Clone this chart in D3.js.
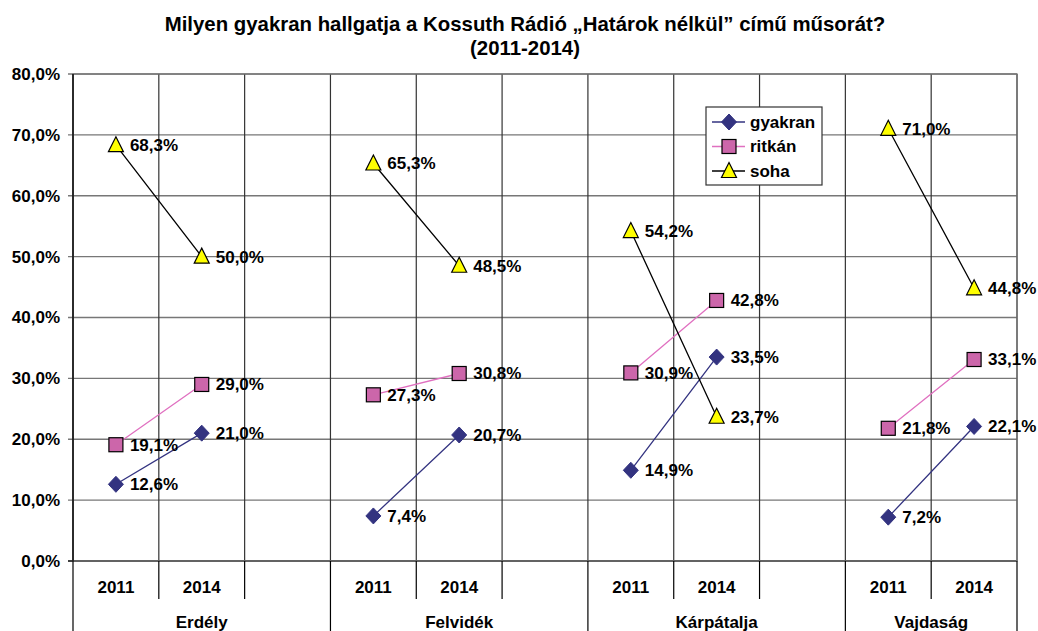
<!DOCTYPE html>
<html><head><meta charset="utf-8">
<script src="https://cdn.jsdelivr.net/npm/d3@7"></script>
<style>body{margin:0;background:#fff}svg{display:block}text{font-family:"Liberation Sans",Arial,sans-serif;font-weight:bold}</style>
</head><body><svg id="c" width="1038" height="631"></svg>
<script>
const categories = ["2011","2014","","2011","2014","","2011","2014","","2011","2014"];
const groups = ["Erdély","Felvidék","Kárpátalja","Vajdaság"];
const groupSizes = [3,3,3,2];
const gyakran = [12.6,21.0,null,7.4,20.7,null,14.9,33.5,null,7.2,22.1];
const ritkan = [19.1,29.0,null,27.3,30.8,null,30.9,42.8,null,21.8,33.1];
const soha = [68.3,50.0,null,65.3,48.5,null,54.2,23.7,null,71.0,44.8];
const yTicks = [0,10,20,30,40,50,60,70,80];
const seriesNames = ["gyakran","ritkán","soha"];

const svg = d3.select("#c");
const L=73,R=1017,T=74,B=561;
const FS=17;
const x = d3.scaleBand().domain(d3.range(categories.length)).range([L,R]).padding(0);
const y = d3.scaleLinear().domain([0,80]).range([B,T]);
const fmt = v => d3.format(".1f")(v).replace(".",",")+"%";

// title
svg.append("text").attr("x",525).attr("y",31).attr("text-anchor","middle").attr("font-size",20.4).text("Milyen gyakran hallgatja a Kossuth Rádió „Határok nélkül” című műsorát?");
svg.append("text").attr("x",525).attr("y",55).attr("text-anchor","middle").attr("font-size",20.4).text("(2011-2014)");

// horizontal grid
svg.append("g").selectAll("line").data(yTicks).join("line")
 .attr("x1",L-5).attr("x2",R).attr("y1",d=>y(d)).attr("y2",d=>y(d))
 .attr("stroke",d=>d===0?"#000":"#777").attr("stroke-width",1.3);
// vertical grid
svg.append("g").selectAll("line").data(d3.range(categories.length+1)).join("line")
 .attr("x1",i=>i<categories.length?x(i):R).attr("x2",i=>i<categories.length?x(i):R)
 .attr("y1",T).attr("y2",B).attr("stroke","#333").attr("stroke-width",1.2);
// border
svg.append("rect").attr("x",L).attr("y",T).attr("width",R-L).attr("height",B-T).attr("fill","none").attr("stroke","#777").attr("stroke-width",1.3);
svg.append("line").attr("x1",L).attr("x2",L).attr("y1",T).attr("y2",B).attr("stroke","#000").attr("stroke-width",1.3);

// y labels
svg.append("g").selectAll("text").data(yTicks).join("text")
 .attr("x",60).attr("y",d=>y(d)).attr("dy","0.35em").attr("text-anchor","end").attr("font-size",FS)
 .text(d=>d3.format(".1f")(d).replace(".",",")+"%");

// x category labels
svg.append("g").selectAll("text").data(categories).join("text")
 .attr("x",(d,i)=>x(i)+x.bandwidth()/2).attr("y",593).attr("text-anchor","middle").attr("font-size",FS).text(d=>d);
// category tick lines
let starts=[0]; groupSizes.forEach((s,i)=>starts.push(starts[i]+s));
svg.append("g").selectAll("line").data(d3.range(1,categories.length)).join("line")
 .attr("x1",i=>x(i)).attr("x2",i=>x(i)).attr("y1",B).attr("y2",i=>starts.includes(i)?631:599)
 .attr("stroke","#000").attr("stroke-width",1.2);
svg.append("line").attr("x1",L).attr("x2",L).attr("y1",B).attr("y2",631).attr("stroke","#000").attr("stroke-width",1.2);
svg.append("line").attr("x1",R).attr("x2",R).attr("y1",B).attr("y2",631).attr("stroke","#000").attr("stroke-width",1.2);
// group labels
svg.append("g").selectAll("text").data(groups).join("text")
 .attr("x",(d,i)=>{const a=x(starts[i]);const b=starts[i+1]<categories.length?x(starts[i+1]):R;return (a+b)/2;})
 .attr("y",628).attr("text-anchor","middle").attr("font-size",FS).text(d=>d);

const styles = [
 {data:gyakran,line:"#333380",fill:"#333380",stroke:"#333380",shape:"diamond"},
 {data:ritkan,line:"#e070c0",fill:"#cc66aa",stroke:"#000",shape:"square"},
 {data:soha,line:"#000",fill:"#ffff00",stroke:"#000",shape:"triangle"}
];
function marker(g,shape,fill,stroke){
 if(shape==="diamond") g.append("path").attr("d","M0,-8L7.5,0L0,8L-7.5,0Z").attr("fill",fill).attr("stroke",stroke);
 if(shape==="square") g.append("rect").attr("x",-7).attr("y",-7).attr("width",14).attr("height",14).attr("fill",fill).attr("stroke",stroke).attr("stroke-width",1.2);
 if(shape==="triangle") g.append("path").attr("d","M0,-8.5L7.5,6.5L-7.5,6.5Z").attr("fill",fill).attr("stroke",stroke).attr("stroke-width",1.2);
}
const line = d3.line().defined(d=>d!=null).x((d,i)=>x(i)+x.bandwidth()/2).y(d=>y(d));
styles.forEach(s=>{
 svg.append("path").attr("d",line(s.data)).attr("fill","none").attr("stroke",s.line).attr("stroke-width",1.3);
});
styles.forEach(s=>{
 s.data.forEach((v,i)=>{
  if(v==null) return;
  const g=svg.append("g").attr("transform",`translate(${x(i)+x.bandwidth()/2},${y(v)})`);
  marker(g,s.shape,s.fill,s.stroke);
 });
});
styles.forEach(s=>{
 s.data.forEach((v,i)=>{
  if(v==null) return;
  svg.append("text").attr("x",x(i)+x.bandwidth()/2+14).attr("y",y(v)).attr("dy","0.35em").attr("font-size",FS).text(fmt(v));
 });
});

// legend
const lg=svg.append("g");
lg.append("rect").attr("x",706).attr("y",107).attr("width",116).attr("height",78).attr("fill","#fff").attr("stroke","#333").attr("stroke-width",1.2);
styles.forEach((s,k)=>{
 const yy=122+k*24.5;
 lg.append("line").attr("x1",712).attr("x2",745).attr("y1",yy).attr("y2",yy).attr("stroke",s.line).attr("stroke-width",1.3);
 const g=lg.append("g").attr("transform",`translate(729,${yy})`);
 marker(g,s.shape,s.fill,s.stroke);
 lg.append("text").attr("x",750).attr("y",yy).attr("dy","0.35em").attr("font-size",FS).text(seriesNames[k]);
});
</script></body></html>
